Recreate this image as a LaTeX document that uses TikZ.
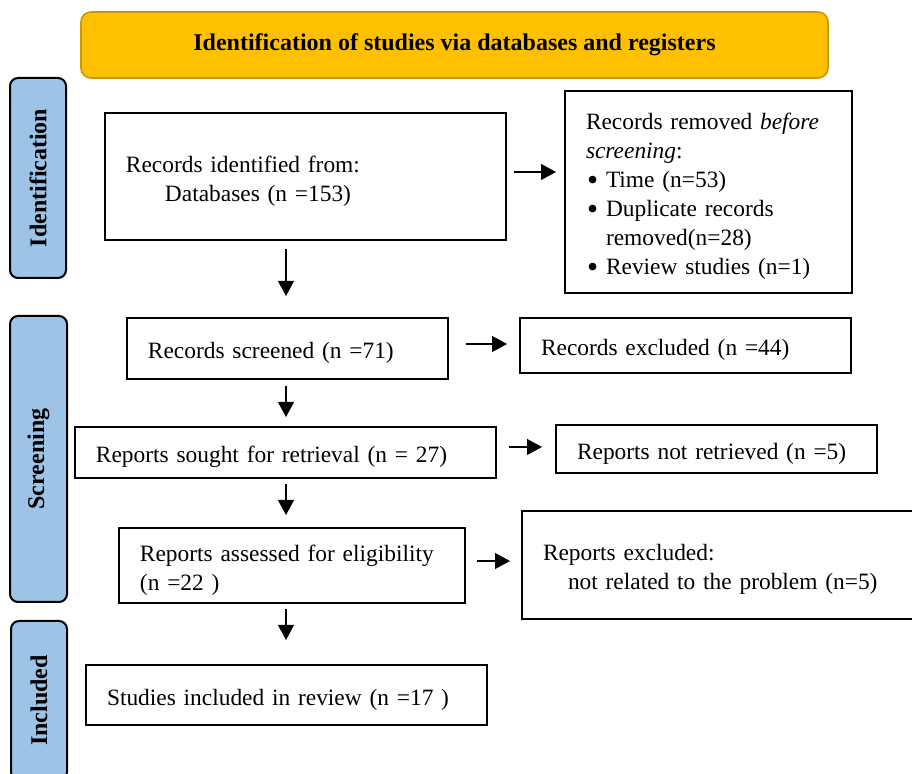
\documentclass[tikz,border=0pt]{standalone}
\usepackage{fontspec}
\setmainfont{Liberation Serif}
\usetikzlibrary{arrows.meta, positioning}
\definecolor{cgold}{HTML}{FFC000}
\definecolor{cgoldline}{HTML}{C9980A}
\definecolor{cside}{HTML}{9DC3E6}
\tikzset{
  every picture/.style={font=\fontsize{11.7}{14.5}\selectfont},
  box/.style={draw, line width=1pt, text width=#1, inner xsep=10.5pt, inner ysep=0pt, align=left,
    execute at begin node={\rule{0pt}{12.5pt}}},
  banner/.style={draw=cgoldline, fill=cgold, line width=0.8pt, rounded corners=5pt, font=\fontsize{12}{14.5}\selectfont\bfseries},
  sidebar/.style={draw, fill=cside, line width=1pt, rounded corners=4pt, rotate=90, font=\fontsize{12}{14.5}\selectfont\bfseries, inner sep=0pt},
  arrow/.style={-{Triangle[length=7.5pt, width=8pt]}, line width=0.6pt},
}
\newcommand{\itm}{\makebox[10pt][l]{\hspace{0.5pt}\raisebox{-1.6pt}{\scalebox{1.35}{\textbullet}}}}

\begin{document}
\begin{tikzpicture}[x=0.5pt, y=-0.5pt]
  \useasboundingbox (0,0) rectangle (912,774);
  % header and phase bars
  \node[banner, minimum width=373.5pt, minimum height=33pt] (head) at (454.5,45) {Identification of studies via databases and registers};
  \node[sidebar, minimum width=100pt, minimum height=28pt] (phaseid) at (38,178) {Identification};
  \node[sidebar, minimum width=143pt, minimum height=28.5pt] (phasescr) at (38.5,459) {Screening};
  \node[sidebar, minimum width=79.5pt, minimum height=28pt] (phaseinc) at (39,700.5) {Included};
  % main column
  \node[box=179.5pt, minimum height=63.5pt] (ident) at (305.5,176.5) {Records identified from:\\\hspace*{19.5pt}Databases (n =153)};
  \node[box=139.5pt, minimum height=30.5pt] (screened) at (287.5,348.5) {Records screened (n =71)};
  \node[box=189.5pt, minimum height=25.5pt] (sought) at (285.5,452.5) {Reports sought for retrieval (n = 27)};
  \node[box=152pt, minimum height=37.5pt] (assessed) at (292,565.5) {Reports assessed for eligibility\\(n =22 )};
  \node[box=179.5pt, minimum height=30pt] (included) at (286.5,695) {Studies included in review (n =17 )};
  % side column
  \node[box=122.5pt, minimum height=101pt] (removed) at (708.5,192) {Records removed \textit{before}\\\textit{screening}:\\\itm Time (n=53)\\\itm Duplicate records\\\hspace*{10pt}removed(n=28)\\\itm Review studies (n=1)};
  \node[box=144.5pt, minimum height=27.5pt] (excluded) at (685.5,345.5) {Records excluded (n =44)};
  \node[box=139.5pt, minimum height=24pt] (notret) at (716.5,449) {Reports not retrieved (n =5)};
  \node[box=183pt, minimum height=54pt] (rexcluded) at (726,565) {Reports excluded:\\\hspace*{12.5pt}not related to the problem (n=5)};
  % arrows
  \coordinate (spine) at (286,0);
  \draw[arrow, shorten <=4pt, shorten >=10.5pt] (ident.south -| spine) -- (screened.north -| spine);
  \draw[arrow, shorten <=3pt, shorten >=4.5pt] (screened.south -| spine) -- (sought.north -| spine);
  \draw[arrow, shorten <=2.5pt, shorten >=6pt] (sought.south -| spine) -- (assessed.north -| spine);
  \draw[arrow, shorten <=2.5pt, shorten >=12pt] (assessed.south -| spine) -- (included.north -| spine);
  \draw[arrow, shorten <=3.5pt, shorten >=4pt, transform canvas={yshift=2.25pt}] (ident.east) -- (ident.east -| removed.west);
  \draw[arrow, shorten <=8.5pt, shorten >=6pt, transform canvas={yshift=2.25pt}] (screened.east) -- (screened.east -| excluded.west);
  \draw[arrow, shorten <=6pt, shorten >=6.5pt, transform canvas={yshift=2.75pt}] (sought.east) -- (sought.east -| notret.west);
  \draw[arrow, shorten <=5.5pt, shorten >=5.5pt, transform canvas={yshift=2.25pt}] (assessed.east) -- (assessed.east -| rexcluded.west);
\end{tikzpicture}
\end{document}
